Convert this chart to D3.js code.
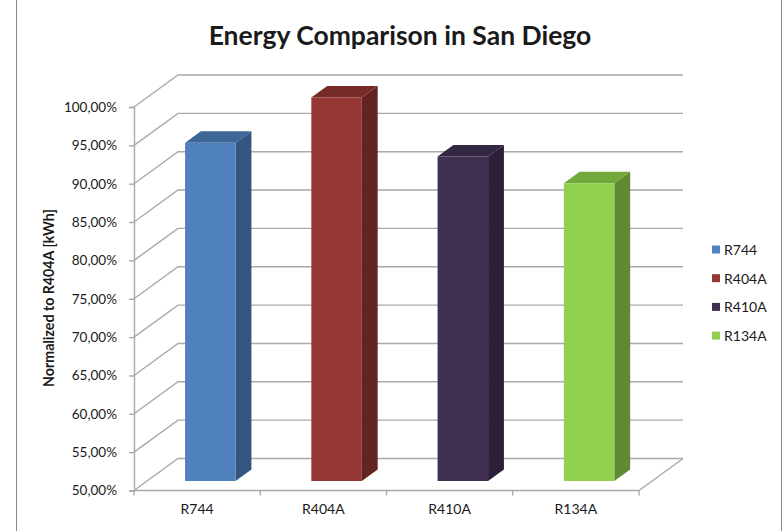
<!DOCTYPE html>
<html>
<head>
<meta charset="utf-8">
<script src="https://cdn.jsdelivr.net/npm/d3@7"></script>
<style>
  html, body { margin: 0; padding: 0; background: #fff; }
  svg { display: block; }
  text { font-family: Lato, "Open Sans", sans-serif; fill: #1a1a1a; }
</style>
</head>
<body>
<svg id="chart" width="782" height="531"></svg>
<script>
// Refrigerant categories and normalized energy use (percent of R404A)
const categories = ["R744", "R404A", "R410A", "R134A"];
const values = [94.1, 100.0, 92.3, 88.8];
const yTicks = [50, 55, 60, 65, 70, 75, 80, 85, 90, 95, 100];

// Face colours per series: front, side, top
const frontColors = ["#4f81bd", "#953735", "#403152", "#92d050"];
const sideColors  = ["#33557f", "#632322", "#2a2037", "#5f8a31"];
const topColors   = ["#3d6797", "#772b29", "#332741", "#72a83c"];

const svg = d3.select("#chart");

// Outer chart frame
svg.append("rect")
  .attr("x", 16.5).attr("y", -2).attr("width", 765).attr("height", 600)
  .attr("fill", "#fff").attr("stroke", "#8a8a8a").attr("stroke-width", 1);

// Front plane geometry and oblique depth vector
const x0 = 134, x1 = 639;
const depthDx = 44, depthDy = -32;

const y = d3.scaleLinear().domain([50, 100]).range([490.5, 107]);
const x = d3.scaleBand().domain(categories).range([x0, x1])
  .paddingInner(0.6).paddingOuter(0.3);

// project a front-plane point to a given depth fraction
const proj = (px, py, z) => [px + z * depthDx, py + z * depthDy];

const gridColor = "#a9a9a9";
const grid = svg.append("g").attr("fill", "none").attr("stroke", gridColor).attr("stroke-width", 1.4);

// Side wall diagonals and back wall gridlines
yTicks.forEach(t => {
  const a = proj(x0, y(t), 0), b = proj(x0, y(t), 1), c = proj(x1, y(t), 1);
  grid.append("path").attr("d", d3.line()([a, b, c]));
});

// Floor outline (front edge + right edge)
{
  const a = proj(x0, y(50), 0), b = proj(x1, y(50), 0), c = proj(x1, y(50), 1);
  grid.append("path").attr("d", d3.line()([a, b, c]));
}

// Front value axis
const fmt = d3.formatLocale({ decimal: ",", thousands: ".", grouping: [3], currency: ["", "€"] }).format(".2f");
const yAxis = svg.append("g")
  .attr("transform", `translate(${x0},0)`)
  .call(d3.axisLeft(y).tickValues(yTicks).tickSize(5).tickPadding(12).tickFormat(d => fmt(d) + "%"));
yAxis.select(".domain").attr("stroke", gridColor).attr("stroke-width", 1.4);
yAxis.selectAll(".tick line").attr("stroke", gridColor).attr("stroke-width", 1.4);
yAxis.selectAll(".tick text").style("font-size", "13.5px").attr("fill", "#1a1a1a");

// Category axis: labels centred on categories, ticks at boundaries
const xAxis = svg.append("g")
  .attr("transform", `translate(0,${y(50)})`)
  .call(d3.axisBottom(x).tickSize(0).tickPadding(14));
xAxis.select(".domain").remove();
xAxis.selectAll(".tick text").style("font-size", "14px").attr("fill", "#1a1a1a");

const bounds = d3.range(categories.length + 1).map(i => x0 + i * x.step());
svg.append("g").selectAll("line").data(bounds).join("line")
  .attr("x1", d => d).attr("x2", d => d)
  .attr("y1", y(50)).attr("y2", y(50) + 5)
  .attr("stroke", gridColor).attr("stroke-width", 1.4);

// 3D bars
const zFront = 0.30, zBack = 0.66;
const bars = svg.append("g");
categories.forEach((c, i) => {
  const v = values[i];
  const xl = x(c), xr = x(c) + x.bandwidth();
  const fTL = proj(xl, y(v), zFront), fTR = proj(xr, y(v), zFront);
  const fBR = proj(xr, y(50), zFront), fBL = proj(xl, y(50), zFront);
  const bTL = proj(xl, y(v), zBack), bTR = proj(xr, y(v), zBack);
  const bBR = proj(xr, y(50), zBack);
  const g = bars.append("g");
  g.append("path").attr("d", d3.line()([fTR, bTR, bBR, fBR]) + "Z").attr("fill", sideColors[i]);
  g.append("path").attr("d", d3.line()([fTL, bTL, bTR, fTR]) + "Z").attr("fill", topColors[i]);
  g.append("path").attr("d", d3.line()([fTL, fTR, fBR, fBL]) + "Z").attr("fill", frontColors[i]);
});

// Title
svg.append("text")
  .attr("x", 400).attr("y", 45)
  .attr("text-anchor", "middle")
  .style("font-size", "26.5px").style("font-weight", "bold")
  .text("Energy Comparison in San Diego");

// Value axis title
svg.append("text")
  .attr("transform", "translate(54,298) rotate(-90)")
  .attr("text-anchor", "middle")
  .style("font-size", "14.2px").style("font-weight", "bold")
  .text("Normalized to R404A [kWh]");

// Legend
const legend = svg.append("g").attr("transform", "translate(712,250)");
const items = legend.selectAll("g").data(categories).join("g")
  .attr("transform", (d, i) => `translate(0,${i * 28.7})`);
items.append("rect").attr("x", 0).attr("y", -4.5).attr("width", 8).attr("height", 8)
  .attr("fill", (d, i) => frontColors[i]);
items.append("text").attr("x", 12).attr("y", 0).attr("dy", "0.35em")
  .style("font-size", "14px").text(d => d);
</script>
</body>
</html>
